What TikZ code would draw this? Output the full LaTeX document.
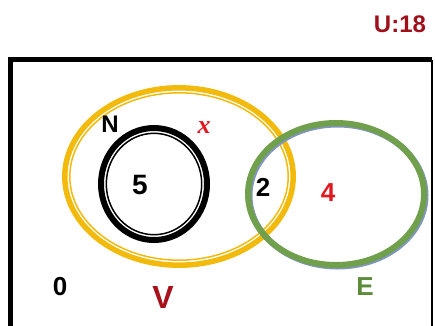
\documentclass[tikz,border=0pt]{standalone}
\usepackage{fontspec}
\setmainfont{Liberation Sans}
\newfontfamily\serifit{Liberation Serif}
\definecolor{ured}{RGB}{160,16,26}
\definecolor{vred}{RGB}{168,16,26}
\definecolor{brightred}{RGB}{226,24,32}
\definecolor{gold}{RGB}{242,186,12}
\definecolor{vgreen}{RGB}{112,160,76}
\definecolor{egreen}{RGB}{92,140,58}
\definecolor{shadowblue}{RGB}{128,150,190}
\tikzset{
  lbl/.style={font=\bfseries, inner sep=0pt, anchor=center},
}
\begin{document}
\begin{tikzpicture}[x=1pt,y=-1pt]
\useasboundingbox (0,0) rectangle (435,325);
\clip (0,0) rectangle (435,325);
% universe frame
\draw[line width=4.5pt] (10.5,345) -- (10.5,59.5) -- (432,59.5);
\draw[line width=2.5pt] (432,59.5) -- (432,345);
% V ellipse (double gold)
\draw[gold, line width=5.5pt] (179,176.5) ellipse [x radius=114.2, y radius=88.7];
\draw[gold, line width=1.5pt] (179,176.5) ellipse [x radius=109.2, y radius=83.7];
% N circle (double black)
\draw[black, line width=6pt] (154,184) ellipse [x radius=53, y radius=56];
\draw[black, line width=1.5pt] (154,184) ellipse [x radius=47.7, y radius=50.7];
% E ellipse (green with bluish shadow)
\draw[shadowblue, line width=6pt] (337.5,195.5) ellipse [x radius=88, y radius=71];
\draw[vgreen, line width=6pt] (336,194) ellipse [x radius=88, y radius=71];
% labels
\node[lbl, text=ured, font=\bfseries\fontsize{24}{28}\selectfont] (u) at (400,24.5) {U:18};
\node[lbl, font=\bfseries\fontsize{24}{28}\selectfont] (n) at (110,124) {N};
\node[lbl, text=brightred, font=\serifit\bfseries\itshape\fontsize{26}{30}\selectfont] (x) at (204,128) {x};
\node[lbl, font=\bfseries\fontsize{28}{32}\selectfont] (five) at (140,185) {5};
\node[lbl, font=\bfseries\fontsize{26}{30}\selectfont] (two) at (263,187) {2};
\node[lbl, text=brightred, font=\bfseries\fontsize{26}{30}\selectfont] (four) at (328,193) {4};
\node[lbl, font=\bfseries\fontsize{26}{30}\selectfont] (zero) at (60,287) {0};
\node[lbl, text=vred, font=\bfseries\fontsize{32}{36}\selectfont] (v) at (163,297) {V};
\node[lbl, text=egreen, font=\bfseries\fontsize{26}{30}\selectfont] (e) at (365,287) {E};
\end{tikzpicture}
\end{document}
